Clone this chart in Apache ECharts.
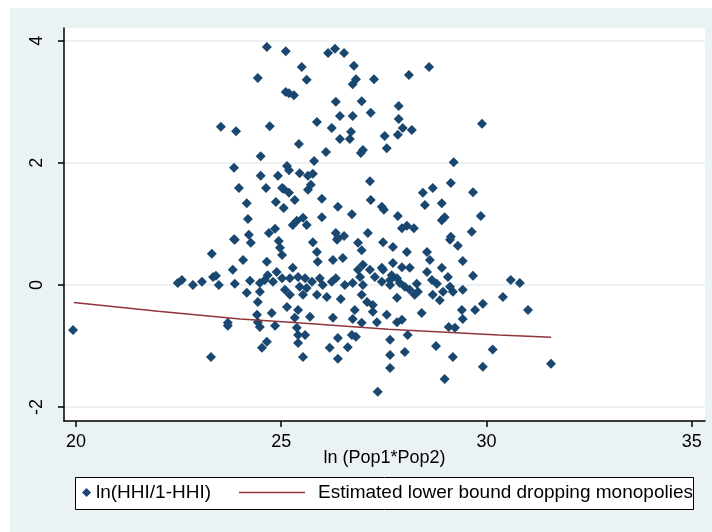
<!DOCTYPE html>
<html><head><meta charset="utf-8">
<script src="https://cdn.jsdelivr.net/npm/echarts@6/dist/echarts.min.js"></script>
<style>
html,body{margin:0;padding:0;background:#fff;}
#wrap{position:relative;width:712px;height:532px;overflow:hidden;}
#bg{position:absolute;left:10px;top:8px;right:0;bottom:0;background:#eaf2f3;}
#chart{position:absolute;left:0;top:0;width:712px;height:532px;}
</style></head><body>
<div id="wrap"><div id="bg"></div><div id="chart"></div></div>
<script>
// Scatter: ln(HHI/1-HHI) against ln(Pop1*Pop2)
const hhiX = [
24.65,25.11,26.14,26.31,26.53,26.77,25.50,24.43,25.62,26.82,26.74,27.26,25.11,25.19,25.31,26.33,26.96,26.43,26.74,27.18,
23.53,23.90,24.72,25.87,26.23,26.70,26.43,26.67,27.52,27.57,25.43,28.11,28.60,27.86,27.86,27.96,28.18,27.84,29.89,26.99,
24.50,25.14,25.19,25.80,26.09,26.94,23.85,24.50,24.92,25.45,25.65,25.77,25.72,25.65,23.97,24.63,25.02,25.19,25.06,27.16,
24.16,24.87,25.06,25.33,25.99,26.38,26.72,27.18,27.45,27.50,24.19,25.28,25.38,25.53,25.62,25.99,23.85,24.21,24.70,24.85,
26.33,26.38,26.53,27.11,28.45,28.69,29.13,29.67,27.84,28.50,28.91,28.91,28.98,29.86,27.94,28.06,28.23,29.64,29.13,29.20,
22.48,22.58,23.87,24.26,24.94,25.77,26.36,23.31,24.07,24.65,24.97,25.02,25.28,25.87,25.89,26.26,
23.82,23.34,22.85,23.07,23.48,23.87,24.24,24.48,24.67,24.89,24.80,25.02,25.21,25.41,25.58,25.75,25.94,26.01,26.23,26.33,
24.16,24.48,25.21,25.53,25.87,26.11,24.43,25.14,25.41,25.70,24.41,24.77,24.43,23.70,25.09,25.45,25.62,24.60,25.33,23.41,
26.96,27.72,28.06,28.55,29.30,26.50,26.99,27.16,27.45,27.72,27.94,28.13,28.62,28.91,29.42,29.67,26.87,26.92,27.28,27.48,
27.69,27.82,27.89,28.01,28.13,28.30,28.55,28.67,28.79,29.06,29.11,29.42,26.55,26.74,26.96,27.09,27.23,27.57,27.82,28.25,
28.33,28.69,28.94,28.86,29.18,26.45,26.79,27.23,27.94,28.42,29.40,29.72,29.91,29.42,26.74,27.33,26.87,27.48,29.11,26.99,
27.45,27.65,27.65,26.96,27.82,30.40,30.59,30.81,31.01,26.26,
19.93,23.70,23.29,24.48,24.85,25.38,25.41,25.58,25.41,24.53,24.65,25.53,26.18,26.38,26.62,26.72,26.82,26.38,27.65,27.65,
27.65,27.35,29.08,29.23,28.08,28.01,28.77,29.18,30.15,29.91,28.98,31.57
];
const hhiY = [
3.90,3.83,3.80,3.87,3.80,3.59,3.57,3.39,3.36,3.37,3.29,3.37,3.16,3.14,3.11,3.00,3.01,2.77,2.77,2.82,
2.59,2.52,2.60,2.67,2.57,2.51,2.39,2.39,2.44,2.24,2.31,3.44,3.57,2.93,2.72,2.57,2.54,2.46,2.64,2.21,
2.11,1.95,1.88,2.03,2.18,2.16,1.92,1.79,1.79,1.83,1.79,1.82,1.64,1.56,1.59,1.59,1.59,1.51,1.57,1.70,
1.34,1.36,1.26,1.39,1.41,1.28,1.16,1.39,1.28,1.23,1.08,0.98,1.05,1.10,0.98,1.11,0.75,0.82,0.85,0.92,
0.85,0.77,0.80,0.85,1.51,1.59,1.67,1.52,1.13,1.31,1.34,1.06,1.11,1.13,0.93,0.97,0.93,0.87,0.79,2.01,
0.03,0.08,0.74,0.69,0.72,0.70,0.74,0.51,0.41,0.38,0.61,0.49,0.28,0.54,0.38,0.41,
0.25,0.13,0.00,0.05,0.00,0.02,0.07,0.03,0.16,0.21,0.05,0.11,0.11,0.13,0.11,0.05,0.11,0.00,0.05,0.11,
-0.13,-0.11,-0.16,-0.16,-0.16,-0.20,-0.28,-0.36,-0.41,-0.52,-0.49,-0.46,-0.61,-0.62,-0.08,-0.03,-0.05,0.08,-0.54,0.15,
0.57,0.62,0.54,0.54,0.64,0.44,0.33,0.25,0.28,0.36,0.29,0.28,0.41,0.28,0.39,0.15,0.25,0.13,0.13,0.25,
0.16,0.11,0.03,-0.03,-0.08,0.02,0.21,0.08,0.02,0.13,-0.03,-0.08,0.00,0.03,-0.16,-0.28,-0.44,-0.49,-0.21,-0.16,
-0.11,-0.16,-0.11,-0.25,-0.11,-0.23,-0.41,-0.33,-0.57,-0.46,-0.41,-0.41,-0.31,-0.56,-0.56,-0.61,0.69,0.70,0.74,0.00,
0.05,0.08,0.00,-0.62,-0.61,-0.20,0.08,0.03,-0.41,-0.54,
-0.74,-0.67,-1.18,-0.69,-0.67,-0.70,-0.82,-0.82,-0.95,-1.03,-0.93,-1.18,-1.03,-0.87,-1.02,-0.82,-0.85,-1.21,-0.90,-1.15,
-1.36,-1.75,-0.69,-0.70,-0.82,-1.10,-1.00,-1.18,-1.06,-1.34,-1.54,-1.29
];
// Estimated lower bound line
const fitX = [19.95, 22.0, 24.0, 25.4, 27.6, 30.3, 31.57];
const fitY = [-0.29, -0.43, -0.557, -0.62, -0.726, -0.82, -0.857];
// Axis ticks / labels
const xTicks = [20, 25, 30, 35];
const yTicks = [-2, 0, 2, 4];
const seriesNames = ['ln(HHI/1-HHI)', 'Estimated lower bound dropping monopolies'];
const xTitle = 'ln (Pop1*Pop2)';

const font = '"Liberation Sans", Arial, sans-serif';
const chart = echarts.init(document.getElementById('chart'), null, {renderer: 'canvas'});
const axisLineStyle = {color: '#000', width: 1.5};
chart.setOption({
  animation: false,
  backgroundColor: 'transparent',
  grid: {left: 64, right: 7, top: 28, bottom: 111, show: true, backgroundColor: '#fff', borderWidth: 0},
  xAxis: {
    type: 'value', min: 19.71, max: 35.32,
    name: xTitle, nameLocation: 'middle', nameGap: 28, nameMoveOverlap: false,
    nameTextStyle: {fontFamily: font, fontSize: 18, color: '#000'},
    axisLine: {show: true, onZero: false, lineStyle: axisLineStyle},
    axisTick: {show: true, customValues: xTicks, length: 6, lineStyle: axisLineStyle},
    axisLabel: {customValues: xTicks, fontFamily: font, fontSize: 18, color: '#000', margin: 12},
    splitLine: {show: false}
  },
  yAxis: {
    type: 'value', min: -2.23, max: 4.21,
    axisLine: {show: true, onZero: false, lineStyle: axisLineStyle},
    axisTick: {show: true, customValues: yTicks, length: 6, lineStyle: axisLineStyle},
    axisLabel: {customValues: yTicks, rotate: 90, fontFamily: font, fontSize: 18, color: '#000', margin: 18},
    splitLine: {show: true, lineStyle: {color: '#e6eef0', width: 1.5}}
  },
  graphic: [{type: 'rect', left: 75, top: 477, z: 1, shape: {width: 618, height: 32},
    style: {fill: '#fff', stroke: '#000', lineWidth: 1}}],
  legend: [
    {data: [{name: seriesNames[0], icon: 'diamond'}], left: 82, top: 483, padding: 0,
     itemWidth: 9, itemHeight: 9, selectedMode: false,
     textStyle: {fontFamily: font, fontSize: 19, color: '#000'}},
    {data: [{name: seriesNames[1], icon: 'rect'}], left: 239, top: 483, padding: 0,
     itemWidth: 66, itemHeight: 1.5, selectedMode: false,
     textStyle: {fontFamily: font, fontSize: 19, color: '#000', padding: [0, 0, 0, 8]}}
  ],
  series: [
    {type: 'scatter', name: seriesNames[0], symbol: 'diamond', symbolSize: 10,
     itemStyle: {color: '#1a476f', opacity: 1},
     data: hhiX.map((x, i) => [x, hhiY[i]])},
    {type: 'line', name: seriesNames[1], symbol: 'none', showSymbol: false,
     lineStyle: {color: '#90353b', width: 1.5}, itemStyle: {color: '#90353b'},
     data: fitX.map((x, i) => [x, fitY[i]])}
  ]
});
</script>
</body></html>
